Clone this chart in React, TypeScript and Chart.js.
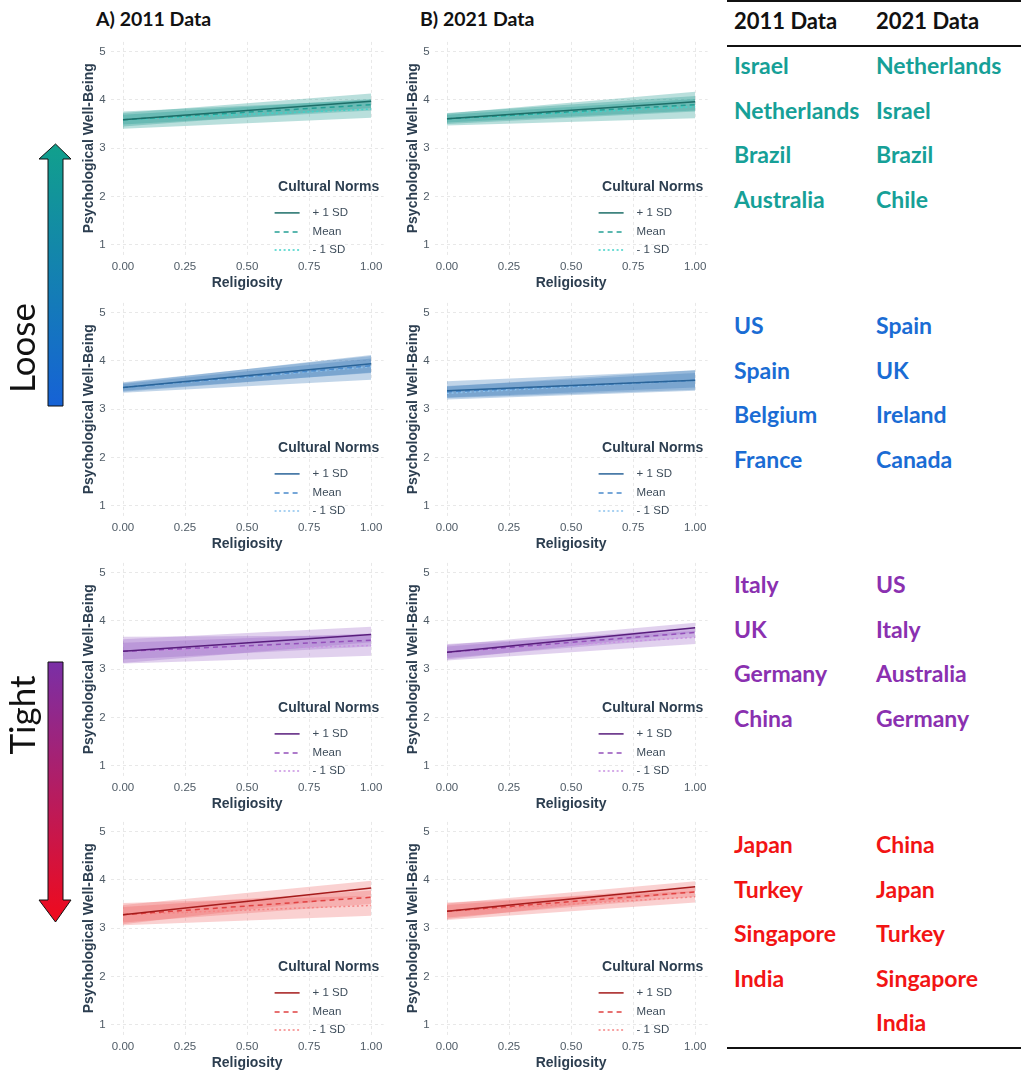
import React, { useEffect, useRef } from 'react';
import { Chart, registerables } from 'chart.js';
Chart.register(...registerables);

// ---------- data ----------
const religiosity = [0, 1];
const xTicks = [0, 0.25, 0.5, 0.75, 1];
const yTicks = [1, 2, 3, 4, 5];
const normLabels = ['+ 1 SD', 'Mean', '- 1 SD'];

// each array: [+1 SD, Mean, -1 SD], values at religiosity 0 and 1
// 2011, loose group 1 (teal)
const a1Fit = [[3.59, 3.97], [3.59, 3.90], [3.59, 3.81]];
const a1Low = [[3.45, 3.83], [3.49, 3.78], [3.40, 3.63]];
const a1High = [[3.73, 4.13], [3.69, 4.02], [3.76, 4.00]];
// 2021, loose group 1 (teal)
const b1Fit = [[3.61, 3.96], [3.61, 3.90], [3.61, 3.86]];
const b1Low = [[3.50, 3.76], [3.53, 3.78], [3.47, 3.62]];
const b1High = [[3.72, 4.17], [3.69, 4.02], [3.73, 4.08]];
// 2011, loose group 2 (blue)
const a2Fit = [[3.45, 3.94], [3.45, 3.90], [3.45, 3.88]];
const a2Low = [[3.36, 3.76], [3.38, 3.75], [3.34, 3.61]];
const a2High = [[3.54, 4.12], [3.52, 4.05], [3.56, 4.10]];
// 2021, loose group 2 (blue)
const b2Fit = [[3.38, 3.60], [3.36, 3.60], [3.33, 3.60]];
const b2Low = [[3.23, 3.40], [3.24, 3.45], [3.20, 3.38]];
const b2High = [[3.58, 3.80], [3.48, 3.75], [3.47, 3.81]];
// 2011, tight group 1 (purple)
const a3Fit = [[3.37, 3.72], [3.37, 3.60], [3.37, 3.49]];
const a3Low = [[3.13, 3.56], [3.20, 3.47], [3.12, 3.28]];
const a3High = [[3.62, 3.88], [3.55, 3.74], [3.67, 3.70]];
// 2021, tight group 1 (purple)
const b3Fit = [[3.35, 3.86], [3.35, 3.76], [3.35, 3.66]];
const b3Low = [[3.20, 3.76], [3.23, 3.66], [3.18, 3.52]];
const b3High = [[3.50, 3.96], [3.47, 3.86], [3.52, 3.79]];
// 2011, tight group 2 (red)
const a4Fit = [[3.28, 3.83], [3.28, 3.64], [3.28, 3.47]];
const a4Low = [[3.08, 3.68], [3.12, 3.50], [3.06, 3.26]];
const a4High = [[3.48, 3.98], [3.44, 3.78], [3.52, 3.67]];
// 2021, tight group 2 (red)
const b4Fit = [[3.35, 3.86], [3.35, 3.75], [3.35, 3.65]];
const b4Low = [[3.19, 3.75], [3.22, 3.65], [3.17, 3.53]];
const b4High = [[3.51, 3.97], [3.48, 3.85], [3.53, 3.77]];

// right-hand table
const tableHeaders = ['2011 Data', '2021 Data'];
const countries2011 = [
  ['Israel', 'Netherlands', 'Brazil', 'Australia'],
  ['US', 'Spain', 'Belgium', 'France'],
  ['Italy', 'UK', 'Germany', 'China'],
  ['Japan', 'Turkey', 'Singapore', 'India'],
];
const countries2021 = [
  ['Netherlands', 'Israel', 'Brazil', 'Chile'],
  ['Spain', 'UK', 'Ireland', 'Canada'],
  ['US', 'Italy', 'Australia', 'Germany'],
  ['China', 'Japan', 'Turkey', 'Singapore', 'India'],
];
const groupTextColors = ['#16a097', '#1a6cd4', '#8a30b0', '#f21414'];

// ---------- styles ----------
const palettes = [
  { lines: ['#1d6e68', '#24a095', '#40d2c8'], band: 'rgba(38,156,146,0.32)' },
  { lines: ['#2a6499', '#4a8acb', '#8cc2ee'], band: 'rgba(62,124,188,0.32)' },
  { lines: ['#581d7c', '#9450ba', '#c891e2'], band: 'rgba(148,90,195,0.28)' },
  { lines: ['#a51b1b', '#e04242', '#f58484'], band: 'rgba(236,90,90,0.28)' },
];
const dashes = [[], [5, 4], [2, 2.5]];
const FONT = '"Liberation Sans", Arial, sans-serif';
const TITLE_COL = '#2c3e50';
const TICK_COL = '#4f5b66';

const rowCanvasTop = [30, 291.2, 550.5, 809.7];
const colCanvasLeft = [60, 383.6];
const CANVAS_W = 330;
const CANVAS_H = 270;

type PanelProps = {
  left: number; top: number; fit: number[][]; low: number[][]; high: number[][]; pal: { lines: string[]; band: string };
};

function Panel({ left, top, fit, low, high, pal }: PanelProps) {
  const ref = useRef<HTMLCanvasElement>(null);
  useEffect(() => {
    if (!ref.current) return;
    const pts = (arr: number[]) => religiosity.map((x, j) => ({ x, y: arr[j] }));
    const datasets: any[] = [];
    fit.forEach((f, i) => {
      datasets.push({
        data: pts(f), borderColor: pal.lines[i], borderWidth: 1.5, borderDash: dashes[i],
        pointRadius: 0, fill: false, order: 0,
      });
    });
    high.forEach((h, i) => {
      datasets.push({ data: pts(h), borderWidth: 0, pointRadius: 0, fill: '+1', backgroundColor: pal.band, order: 1 });
      datasets.push({ data: pts(low[i]), borderWidth: 0, pointRadius: 0, fill: false, order: 1 });
    });
    const legendPlugin = {
      id: 'normsLegend',
      afterDatasetsDraw(chart: any) {
        const { ctx, chartArea: ca } = chart;
        ctx.save();
        ctx.fillStyle = TITLE_COL;
        ctx.font = `bold 14px ${FONT}`;
        ctx.textAlign = 'center';
        ctx.textBaseline = 'middle';
        ctx.fillText('Cultural Norms', ca.right - 55, ca.top + 145);
        const ys = [171, 190, 208];
        normLabels.forEach((lab, i) => {
          const y = ca.top + ys[i];
          ctx.beginPath();
          ctx.setLineDash(dashes[i]);
          ctx.strokeStyle = pal.lines[i];
          ctx.lineWidth = 1.5;
          ctx.moveTo(ca.right - 109, y);
          ctx.lineTo(ca.right - 84, y);
          ctx.stroke();
          ctx.setLineDash([]);
          ctx.fillStyle = '#3d4c5a';
          ctx.font = `11.5px ${FONT}`;
          ctx.textAlign = 'left';
          ctx.fillText(lab, ca.right - 71, y);
        });
        ctx.restore();
      },
    };
    const chart = new Chart(ref.current, {
      type: 'line',
      data: { datasets },
      options: {
        animation: false,
        responsive: false,
        maintainAspectRatio: false,
        layout: { padding: { top: 8, right: 6.4, left: 0, bottom: 0 } },
        plugins: { legend: { display: false }, tooltip: { enabled: false } },
        scales: {
          x: {
            type: 'linear', min: -0.05, max: 1.05,
            afterBuildTicks: (s: any) => { s.ticks = xTicks.map((v) => ({ value: v })); },
            afterFit: (s: any) => { s.height = 45.5; },
            ticks: { callback: (v: any) => Number(v).toFixed(2), color: TICK_COL, font: { family: FONT, size: 11.5 }, padding: 5.2, maxRotation: 0 },
            grid: { color: '#e8e8e8', lineWidth: 1, drawTicks: false },
            border: { display: false, dash: [3, 3] },
            title: { display: true, text: 'Religiosity', color: TITLE_COL, font: { family: FONT, size: 14, weight: 'bold' }, padding: { top: 0, bottom: 8.6 } },
          },
          y: {
            type: 'linear', min: 0.8, max: 5.2,
            afterBuildTicks: (s: any) => { s.ticks = yTicks.map((v) => ({ value: v })); },
            afterFit: (s: any) => { s.width = 50.6; },
            ticks: { callback: (v: any) => String(v), color: TICK_COL, font: { family: FONT, size: 11.5 }, padding: 5 },
            grid: { color: '#e8e8e8', lineWidth: 1, drawTicks: false },
            border: { display: false, dash: [3, 3] },
            title: { display: true, text: 'Psychological Well-Being', color: TITLE_COL, font: { family: FONT, size: 14, weight: 'bold' }, padding: { top: 20.5, bottom: 0 } },
          },
        },
      } as any,
      plugins: [legendPlugin],
    });
    return () => chart.destroy();
  }, []);
  return (
    <canvas
      ref={ref}
      width={CANVAS_W}
      height={CANVAS_H}
      style={{ position: 'absolute', left, top, width: CANVAS_W, height: CANVAS_H }}
    />
  );
}

function Arrow({ id, top, bottom, up, c1, c2 }: { id: string; top: number; bottom: number; up: boolean; c1: string; c2: string }) {
  const sx1 = 48, sx2 = 63, hx1 = 39, hx2 = 71, tipX = 55.5;
  let pts: string;
  if (up) {
    const base = top + 15;
    pts = `${tipX},${top} ${hx2},${base} ${sx2},${base} ${sx2},${bottom} ${sx1},${bottom} ${sx1},${base} ${hx1},${base}`;
  } else {
    const base = bottom - 22;
    pts = `${sx1},${top} ${sx2},${top} ${sx2},${base} ${hx2},${base} ${tipX},${bottom} ${hx1},${base} ${sx1},${base}`;
  }
  return (
    <g>
      <defs>
        <linearGradient id={id} x1="0" y1={top} x2="0" y2={bottom} gradientUnits="userSpaceOnUse">
          <stop offset="0" stopColor={c1} />
          <stop offset="1" stopColor={c2} />
        </linearGradient>
      </defs>
      <polygon points={pts} fill={`url(#${id})`} stroke="#111" strokeWidth={1} />
    </g>
  );
}

export default function App() {
  const fits = [[a1Fit, b1Fit], [a2Fit, b2Fit], [a3Fit, b3Fit], [a4Fit, b4Fit]];
  const lows = [[a1Low, b1Low], [a2Low, b2Low], [a3Low, b3Low], [a4Low, b4Low]];
  const highs = [[a1High, b1High], [a2High, b2High], [a3High, b3High], [a4High, b4High]];
  const rowFirstY = [65, 325, 584, 844];
  const step = 44.5;
  const tableFont = 'Lato, "Open Sans", sans-serif';
  return (
    <div style={{ position: 'absolute', left: 0, top: 0, width: 1021, height: 1070, overflow: 'hidden', background: '#fff' }}>
      <div style={{ position: 'absolute', left: 96, top: 18, transform: 'translateY(-50%)', font: `bold 19.5px ${tableFont}`, color: '#111', whiteSpace: 'nowrap' }}>A) 2011 Data</div>
      <div style={{ position: 'absolute', left: 420, top: 18, transform: 'translateY(-50%)', font: `bold 19.5px ${tableFont}`, color: '#111', whiteSpace: 'nowrap' }}>B) 2021 Data</div>
      {fits.map((row, r) =>
        row.map((fit, c) => (
          <Panel key={`${r}-${c}`} left={colCanvasLeft[c]} top={rowCanvasTop[r]} fit={fit} low={lows[r][c]} high={highs[r][c]} pal={palettes[r]} />
        ))
      )}
      <svg width={80} height={1070} style={{ position: 'absolute', left: 0, top: 0 }}>
        <Arrow id="gLoose" top={144} bottom={406} up={true} c1="#11a08c" c2="#1662d6" />
        <Arrow id="gTight" top={662} bottom={922} up={false} c1="#7a2fa6" c2="#f00a1c" />
        <text x={0} y={0} transform="translate(21,348) rotate(-90)" textAnchor="middle" dominantBaseline="central" style={{ font: `35px ${tableFont}` }} fill="#111">Loose</text>
        <text x={0} y={0} transform="translate(21,715) rotate(-90)" textAnchor="middle" dominantBaseline="central" style={{ font: `35px ${tableFont}` }} fill="#111">Tight</text>
      </svg>
      <div style={{ position: 'absolute', left: 727, top: 0, width: 294, height: 2, background: '#111' }} />
      <div style={{ position: 'absolute', left: 727, top: 45, width: 294, height: 2, background: '#111' }} />
      <div style={{ position: 'absolute', left: 727, top: 1047, width: 294, height: 2, background: '#111' }} />
      {tableHeaders.map((h, i) => (
        <div key={h} style={{ position: 'absolute', left: i === 0 ? 734 : 876, top: 20, transform: 'translateY(-50%)', font: `bold 22px ${tableFont}`, color: '#111', whiteSpace: 'nowrap' }}>{h}</div>
      ))}
      {[countries2011, countries2021].map((col, ci) =>
        col.map((group, g) =>
          group.map((name, k) => (
            <div key={`${ci}-${g}-${k}`} style={{ position: 'absolute', left: ci === 0 ? 734 : 876, top: rowFirstY[g] + k * step, transform: 'translateY(-50%)', font: `bold 23px ${tableFont}`, color: groupTextColors[g], whiteSpace: 'nowrap' }}>{name}</div>
          ))
        )
      )}
    </div>
  );
}
